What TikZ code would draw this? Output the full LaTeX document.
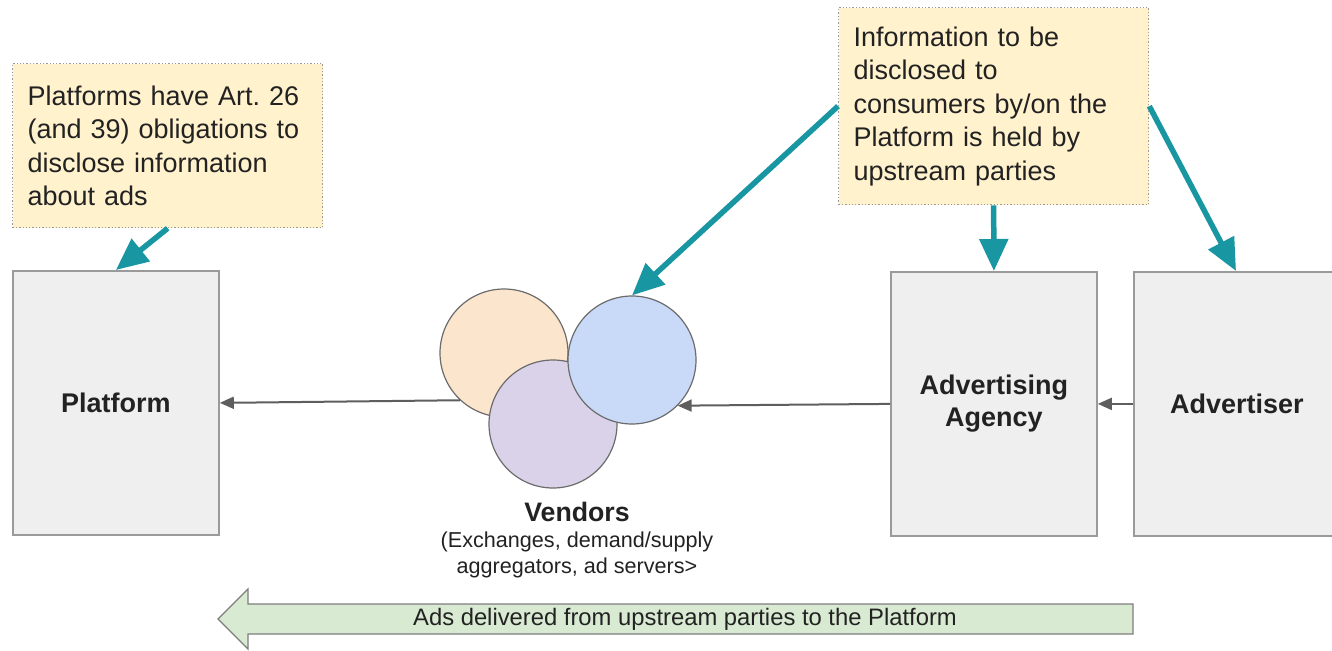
\documentclass[tikz,border=0pt]{standalone}
\usepackage{fontspec}
\setmainfont{Liberation Sans}
\usetikzlibrary{arrows.meta}
\frenchspacing
\definecolor{noteFill}{HTML}{FFF2CC}
\definecolor{boxFill}{HTML}{EFEFEF}
\definecolor{boxLine}{HTML}{9A9A9A}
\definecolor{teal}{HTML}{1896A2}
\definecolor{linkGray}{HTML}{5E5E5E}
\definecolor{peach}{HTML}{FCE5CD}
\definecolor{lilac}{HTML}{D9D2E9}
\definecolor{skyblue}{HTML}{C9DAF8}
\definecolor{mint}{HTML}{D9EAD3}
\definecolor{ink}{HTML}{222222}
\tikzset{
  notebox/.style={draw=gray!80, dotted, line width=1.3pt, fill=noteFill,
    minimum width=310pt, inner xsep=15pt, text width=280pt, align=left,
    text=ink, font=\fontsize{27}{33.5}\selectfont},
  party/.style={draw=boxLine, line width=1.8pt, fill=boxFill, minimum width=206pt,
    minimum height=264pt, text=ink, align=center,
    font=\fontsize{27}{32}\selectfont\bfseries},
  vendor/.style={circle, draw=gray!85!black, line width=1.2pt, minimum size=128pt,
    inner sep=0pt},
  callout/.style={draw=teal, line width=5.5pt, -{Triangle[length=32pt,width=28pt]}},
  flow/.style={draw=linkGray, line width=2pt, -{Triangle[length=14pt,width=12pt]}},
}
\begin{document}
\begin{tikzpicture}[x=1pt,y=-1pt]
\useasboundingbox[fill=white] (0,0) rectangle (1332,650);
\clip (0,0) rectangle (1332,650);

% notes
\node[notebox, minimum height=164pt, anchor=north west] (n1) at (12,63)
  {Platforms have Art. 26\\(and 39) obligations to\\disclose information\\about ads};
\node[notebox, minimum height=197pt, anchor=north west] (n2) at (838,7)
  {Information to be\\disclosed to\\consumers by/on the\\Platform is held by\\upstream parties};

% parties (the advertiser box runs past the right edge)
\node[party, anchor=north west] (platform) at (12,270) {Platform};
\node[party, anchor=north west] (agency) at (890,271) {Advertising\\Agency};
\node[party, anchor=north west, minimum width=230pt] (advertiser) at (1133,271)
  {\hspace*{-24pt}Advertiser};
\coordinate (advtop) at (1236,271);

% vendors
\node[vendor, fill=peach] (orange) at (504,353) {};
\node[vendor, fill=lilac] (purple) at (553,424) {};
\node[vendor, fill=skyblue] (blue) at (632,360) {};
\node[text=ink, font=\fontsize{26.7}{30}\selectfont\bfseries] (vlabel) at (577,512) {Vendors};
\node[text=ink, align=center, font=\fontsize{21.6}{26}\selectfont] (vsub) at (577,555)
  {(Exchanges, demand/supply\\aggregators, ad servers>};

% flow of ads
\draw[flow] (orange.-133) -- (platform.east);
\draw[flow] (agency.west) -- (blue.-45);
\draw[flow] (advertiser.west) -- (agency.east);

% call-out arrows
\draw[callout] (n1.south) -- (platform.north);
\draw[callout] (n2.west) -- (blue.north);
\draw[callout] (n2.south) -- (agency.north);
\draw[callout] (n2.east) -- (advtop);

% big delivery arrow
\draw[draw=linkGray!80, line width=1.3pt, fill=mint, line join=miter]
  (1133,604) -- (248,604) -- (248,589) -- (218,619) -- (248,649) -- (248,634)
  -- (1133,634) -- cycle;
\node[text=ink, font=\fontsize{23.8}{28}\selectfont] (delivery) at (685,619)
  {Ads delivered from upstream parties to the Platform};
\end{tikzpicture}
\end{document}
